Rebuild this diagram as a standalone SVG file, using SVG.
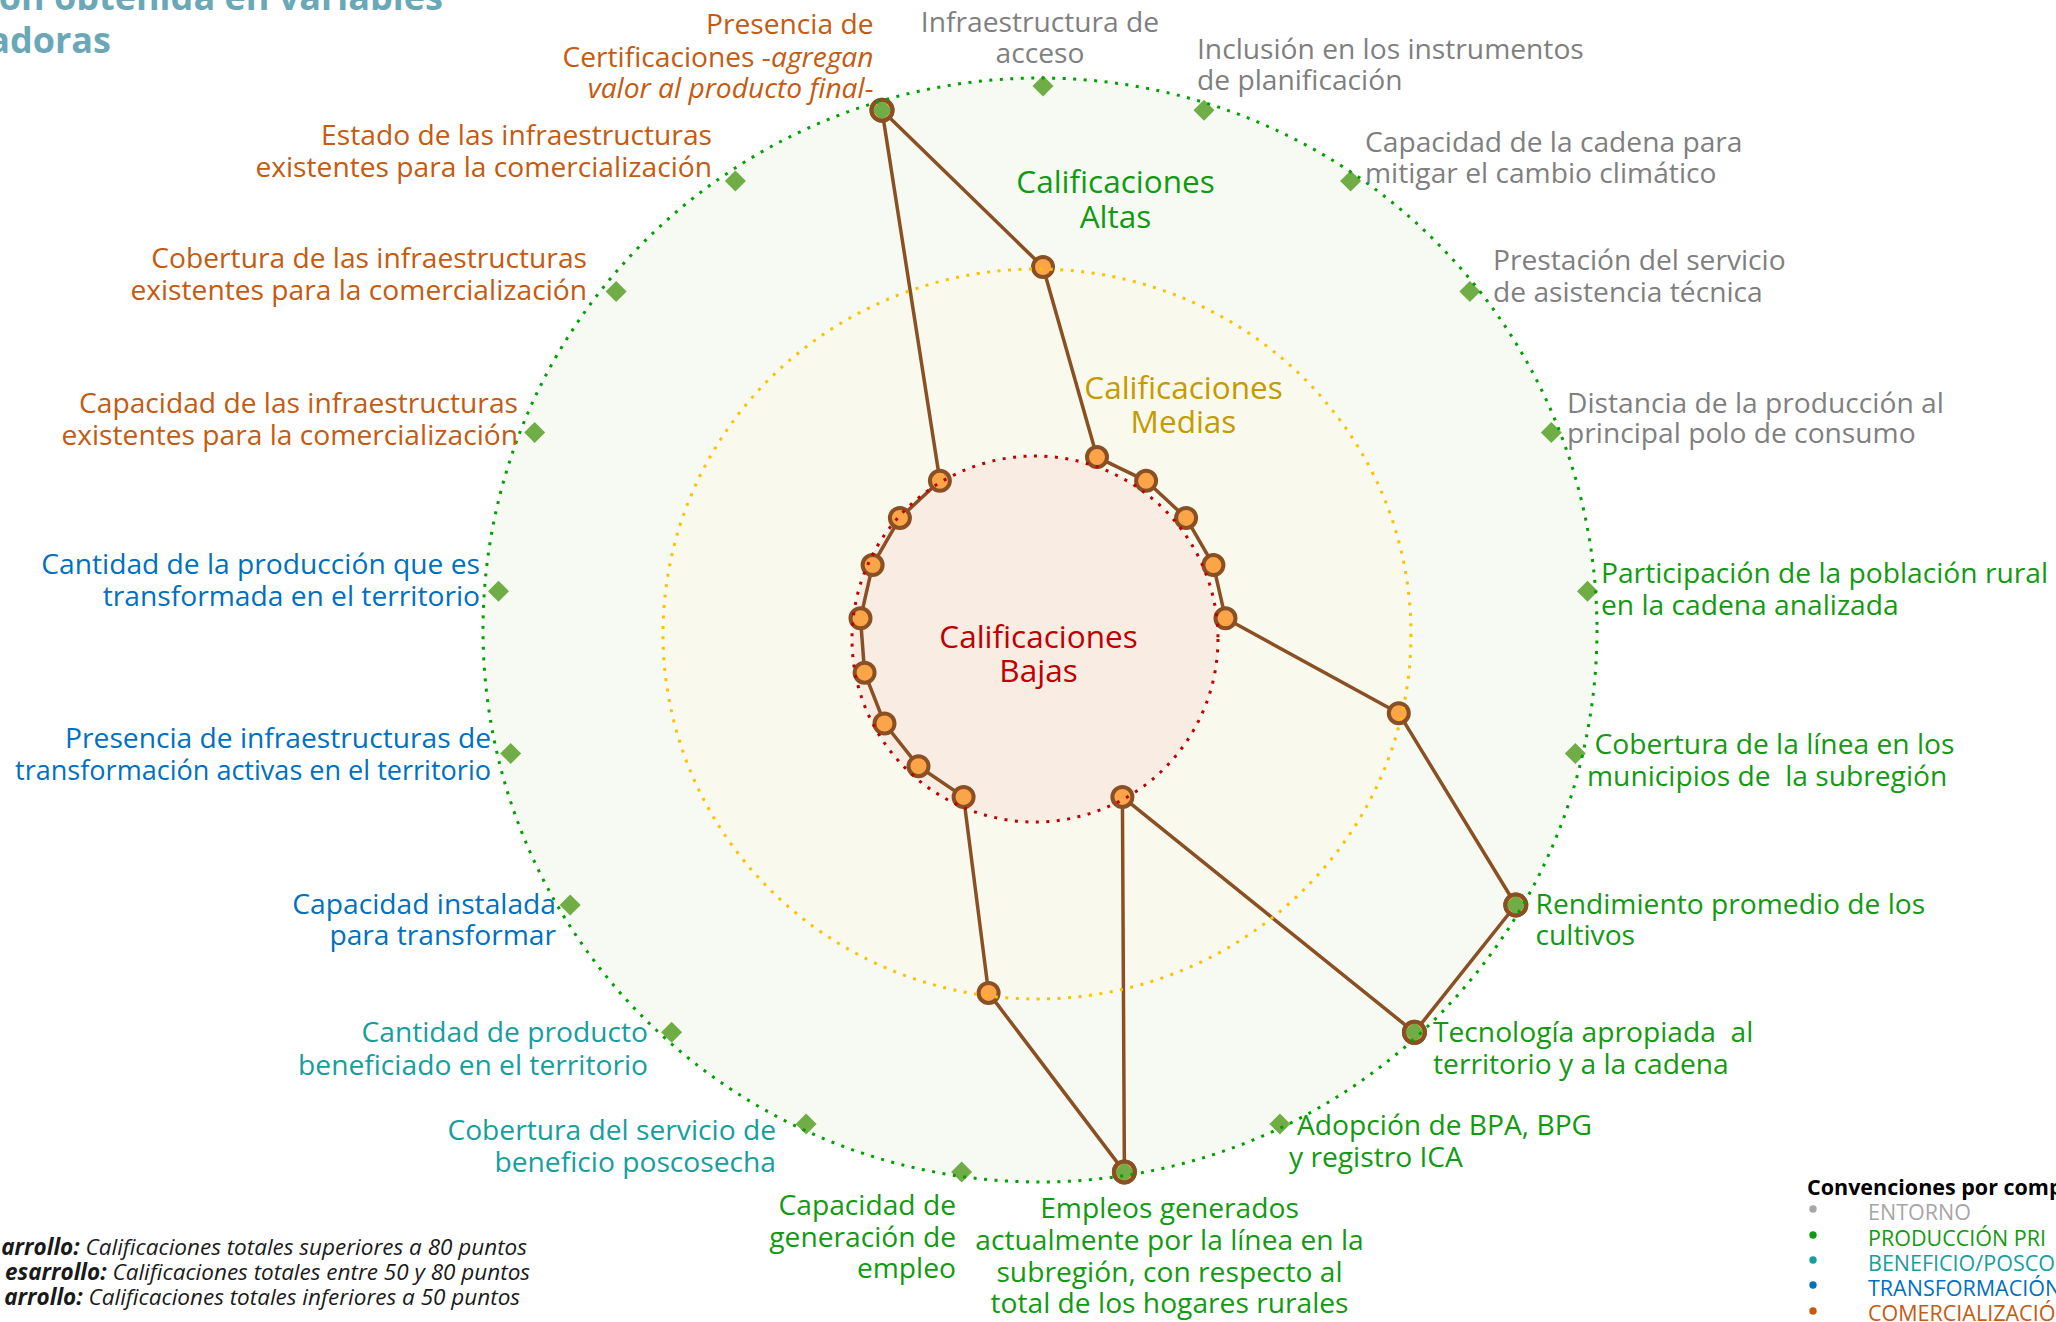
<svg xmlns="http://www.w3.org/2000/svg" xmlns:xlink="http://www.w3.org/1999/xlink" width="2056" height="1322" viewBox="0 0 2056 1322">
  <defs>
    <style>
      text { font-family: "Open Sans", "Liberation Sans", sans-serif; }
      .lbl { font-size: 28.2px; }
      .end { text-anchor: end; }
      .mid { text-anchor: middle; }
      .ent { fill: #7F7F7F; }
      .pro { fill: #129A12; }
      .ben { fill: #169E9E; }
      .tra { fill: #0070C0; }
      .com { fill: #C55A11; }
      .zone { font-size: 31.5px; text-anchor: middle; }
      .dots { fill: none; stroke-width: 3; stroke-dasharray: 3 7.5; }
      .mk { fill: #FBA448; stroke: #8A5024; stroke-width: 4; }
      .ring { fill: none; stroke: #8A5024; stroke-width: 4; }
      .dia { fill: #70AD47; }
      .title { font-size: 36px; font-weight: 700; fill: #6BA8B7; }
      .note { font-size: 22.5px; font-style: italic; fill: #1A1A1A; }
      .leg { font-size: 21.5px; }
    </style>
    <path id="d" d="M0,-10.5 L10.5,0 L0,10.5 L-10.5,0 Z"/>
  </defs>

  <rect width="2056" height="1322" fill="#FFFFFF"/>

  <!-- rating bands -->
  <g id="bands">
    <ellipse cx="1040" cy="630" rx="557" ry="552" fill="#F7FAF3"/>
    <ellipse cx="1037" cy="634" rx="374" ry="365" fill="#F9F9EE"/>
    <circle cx="1035" cy="639" r="183" fill="#F9ECE3"/>
  </g>

  <!-- score polygon -->
  <g id="connectors" fill="none" stroke="#8A5024" stroke-width="3.5" stroke-linejoin="round">
    <path d="M882,110.2 L1043,267 L1097,457.1 L1146.1,480.8 L1186.1,517.9 L1213.4,565.1 L1225.5,618.3 L1398.8,713.2 L1515.8,905 L1414.4,1032.3 L1122.4,796.9 L1124.4,1171.9 L988.6,992.9 L963.6,796.9 L918.5,766.2 L884.5,723.5 L864.6,672.7 L860.5,618.3 L872.6,565.1 L899.9,517.9 L939.9,480.8 Z"/>
  </g>

  <!-- score markers -->
  <g id="markers">
    <circle class="mk" cx="882" cy="110.2" r="10.5"/>
    <circle class="mk" cx="1043" cy="267" r="10"/>
    <circle class="mk" cx="1097" cy="457.1" r="10"/>
    <circle class="mk" cx="1146.1" cy="480.8" r="10"/>
    <circle class="mk" cx="1186.1" cy="517.9" r="10"/>
    <circle class="mk" cx="1213.4" cy="565.1" r="10"/>
    <circle class="mk" cx="1225.5" cy="618.3" r="10"/>
    <circle class="mk" cx="1398.8" cy="713.2" r="10"/>
    <circle class="mk" cx="1515.8" cy="905" r="10.5"/>
    <circle class="mk" cx="1414.4" cy="1032.3" r="10.5"/>
    <circle class="mk" cx="1122.4" cy="796.9" r="10"/>
    <circle class="mk" cx="1124.4" cy="1171.9" r="10.5"/>
    <circle class="mk" cx="988.6" cy="992.9" r="10"/>
    <circle class="mk" cx="963.6" cy="796.9" r="10"/>
    <circle class="mk" cx="918.5" cy="766.2" r="10"/>
    <circle class="mk" cx="884.5" cy="723.5" r="10"/>
    <circle class="mk" cx="864.6" cy="672.7" r="10"/>
    <circle class="mk" cx="860.5" cy="618.3" r="10"/>
    <circle class="mk" cx="872.6" cy="565.1" r="10"/>
    <circle class="mk" cx="899.9" cy="517.9" r="10"/>
    <circle class="mk" cx="939.9" cy="480.8" r="10"/>
  </g>

  <!-- axis ends -->
  <g id="axis-ends" class="dia">
    <use xlink:href="#d" x="882" y="110.2"/>
    <use xlink:href="#d" x="1043" y="86"/>
    <use xlink:href="#d" x="1204" y="110.2"/>
    <use xlink:href="#d" x="1350.6" y="180.9"/>
    <use xlink:href="#d" x="1469.9" y="291.6"/>
    <use xlink:href="#d" x="1551.3" y="432.5"/>
    <use xlink:href="#d" x="1587.5" y="591.2"/>
    <use xlink:href="#d" x="1575.3" y="753.5"/>
    <use xlink:href="#d" x="1515.8" y="905"/>
    <use xlink:href="#d" x="1414.4" y="1032.3"/>
    <use xlink:href="#d" x="1279.9" y="1124"/>
    <use xlink:href="#d" x="1124.4" y="1171.9"/>
    <use xlink:href="#d" x="961.6" y="1171.9"/>
    <use xlink:href="#d" x="806.1" y="1124"/>
    <use xlink:href="#d" x="671.6" y="1032.3"/>
    <use xlink:href="#d" x="570.2" y="905"/>
    <use xlink:href="#d" x="510.7" y="753.5"/>
    <use xlink:href="#d" x="498.5" y="591.2"/>
    <use xlink:href="#d" x="534.7" y="432.5"/>
    <use xlink:href="#d" x="616.1" y="291.6"/>
    <use xlink:href="#d" x="735.4" y="180.9"/>
  </g>

  <!-- rings of the top-rated markers, above their diamonds -->
  <g id="top-rings">
    <circle class="ring" cx="882" cy="110.2" r="10.5"/>
    <circle class="ring" cx="1515.8" cy="905" r="10.5"/>
    <circle class="ring" cx="1414.4" cy="1032.3" r="10.5"/>
    <circle class="ring" cx="1124.4" cy="1171.9" r="10.5"/>
  </g>

  <!-- dotted band outlines -->
  <g id="band-outlines">
    <ellipse class="dots" cx="1040" cy="630" rx="557" ry="552" stroke="#00A000"/>
    <ellipse class="dots" cx="1037" cy="634" rx="374" ry="365" stroke="#FFC000"/>
    <circle class="dots" cx="1035" cy="639" r="183" stroke="#C00000"/>
  </g>

  <!-- band names -->
  <g id="zone-altas">
    <text class="zone" x="1115.5" y="192.7" fill="#129A12">Calificaciones</text>
    <text class="zone" x="1115.5" y="227.7" fill="#129A12">Altas</text>
  </g>
  <g id="zone-medias">
    <text class="zone" x="1183.5" y="399" fill="#C59B00">Calificaciones</text>
    <text class="zone" x="1183.5" y="433" fill="#C59B00">Medias</text>
  </g>
  <g id="zone-bajas">
    <text class="zone" x="1038.5" y="647.7" fill="#C00000">Calificaciones</text>
    <text class="zone" x="1038.5" y="681.7" fill="#C00000">Bajas</text>
  </g>

  <!-- variable labels: entorno -->
  <g id="v02" class="lbl ent mid">
    <text x="1040" y="31.7">Infraestructura de</text>
    <text x="1040" y="63.3">acceso</text>
  </g>
  <g id="v03" class="lbl ent">
    <text x="1197" y="59.3">Inclusión en los instrumentos</text>
    <text x="1197" y="90">de planificación</text>
  </g>
  <g id="v04" class="lbl ent">
    <text x="1365" y="151.7">Capacidad de la cadena para</text>
    <text x="1365" y="182.7">mitigar el cambio climático</text>
  </g>
  <g id="v05" class="lbl ent">
    <text x="1493" y="270">Prestación del servicio</text>
    <text x="1493" y="301.7">de asistencia técnica</text>
  </g>
  <g id="v06" class="lbl ent">
    <text x="1567" y="412.7">Distancia de la producción al</text>
    <text x="1567" y="443.3">principal polo de consumo</text>
  </g>

  <!-- variable labels: producción primaria -->
  <g id="v07" class="lbl pro">
    <text x="1601" y="583.3">Participación de la población rural</text>
    <text x="1601" y="615">en la cadena analizada</text>
  </g>
  <g id="v08" class="lbl pro">
    <text x="1594.5" y="754">Cobertura de la línea en los</text>
    <text x="1587" y="786" xml:space="preserve">municipios de  la subregión</text>
  </g>
  <g id="v09" class="lbl pro">
    <text x="1535.5" y="914">Rendimiento promedio de los</text>
    <text x="1535.5" y="945">cultivos</text>
  </g>
  <g id="v10" class="lbl pro">
    <text x="1433" y="1042" xml:space="preserve">Tecnología apropiada  al</text>
    <text x="1433" y="1074">territorio y a la cadena</text>
  </g>
  <g id="v11" class="lbl pro">
    <text x="1297" y="1135">Adopción de BPA, BPG</text>
    <text x="1289" y="1166.7">y registro ICA</text>
  </g>
  <g id="v12" class="lbl pro mid">
    <text x="1169.5" y="1218.3">Empleos generados</text>
    <text x="1169.5" y="1250">actualmente por la línea en la</text>
    <text x="1169.5" y="1281.7">subregión, con respecto al</text>
    <text x="1169.5" y="1313.3">total de los hogares rurales</text>
  </g>
  <g id="v13" class="lbl pro end">
    <text x="956" y="1215">Capacidad de</text>
    <text x="956" y="1246.7">generación de</text>
    <text x="956" y="1278.3">empleo</text>
  </g>

  <!-- variable labels: beneficio / poscosecha -->
  <g id="v14" class="lbl ben end">
    <text x="776" y="1140">Cobertura del servicio de</text>
    <text x="776" y="1171.7">beneficio poscosecha</text>
  </g>
  <g id="v15" class="lbl ben end">
    <text x="648" y="1042">Cantidad de producto</text>
    <text x="648" y="1075">beneficiado en el territorio</text>
  </g>

  <!-- variable labels: transformación -->
  <g id="v16" class="lbl tra end">
    <text x="556" y="914">Capacidad instalada</text>
    <text x="556" y="945">para transformar</text>
  </g>
  <g id="v17" class="lbl tra end" font-size="27">
    <text x="491" y="748.3">Presencia de infraestructuras de</text>
    <text x="491" y="780" textLength="476" lengthAdjust="spacingAndGlyphs">transformación activas en el territorio</text>
  </g>
  <g id="v18" class="lbl tra end">
    <text x="480" y="574">Cantidad de la producción que es</text>
    <text x="480" y="606">transformada en el territorio</text>
  </g>

  <!-- variable labels: comercialización -->
  <g id="v19" class="lbl com end">
    <text x="518" y="413">Capacidad de las infraestructuras</text>
    <text x="518" y="445">existentes para la comercialización</text>
  </g>
  <g id="v20" class="lbl com end">
    <text x="587" y="268">Cobertura de las infraestructuras</text>
    <text x="587" y="300">existentes para la comercialización</text>
  </g>
  <g id="v21" class="lbl com end">
    <text x="712" y="145">Estado de las infraestructuras</text>
    <text x="712" y="176.7">existentes para la comercialización</text>
  </g>
  <g id="v01" class="lbl com end">
    <text x="873.5" y="34.3">Presencia de</text>
    <text x="873.5" y="66.7">Certificaciones -<tspan font-style="italic">agregan</tspan></text>
    <text x="873.5" y="98.3" font-style="italic">valor al producto final-</text>
  </g>

  <!-- heading -->
  <g id="heading" class="title end">
    <text x="443" y="10">ón obtenida en variables</text>
    <text x="111" y="53">adoras</text>
  </g>

  <!-- development levels -->
  <g id="levels" class="note end">
    <text x="527" y="1255"><tspan font-weight="700">arrollo:</tspan> Calificaciones totales superiores a 80 puntos</text>
    <text x="530" y="1280"><tspan font-weight="700">esarrollo:</tspan> Calificaciones totales entre 50 y 80 puntos</text>
    <text x="520" y="1305"><tspan font-weight="700">arrollo:</tspan> Calificaciones totales inferiores a 50 puntos</text>
  </g>

  <!-- component key -->
  <g id="key">
    <text x="1807" y="1195" font-size="21.5" font-weight="700" fill="#000000">Convenciones por comp</text>
    <circle cx="1813" cy="1209" r="3.7" fill="#A6A6A6"/>
    <circle cx="1813" cy="1235" r="3.7" fill="#129A12"/>
    <circle cx="1813" cy="1260" r="3.7" fill="#169E9E"/>
    <circle cx="1813" cy="1285" r="3.7" fill="#0070C0"/>
    <circle cx="1813" cy="1311" r="3.7" fill="#C55A11"/>
    <text class="leg" x="1868" y="1220" fill="#A6A6A6">ENTORNO</text>
    <text class="leg" x="1868" y="1246" fill="#129A12">PRODUCCIÓN PRI</text>
    <text class="leg" x="1868" y="1271" fill="#169E9E">BENEFICIO/POSCO</text>
    <text class="leg" x="1868" y="1296" fill="#0070C0">TRANSFORMACIÓN</text>
    <text class="leg" x="1868" y="1321" fill="#C55A11">COMERCIALIZACIÓ</text>
  </g>
</svg>
